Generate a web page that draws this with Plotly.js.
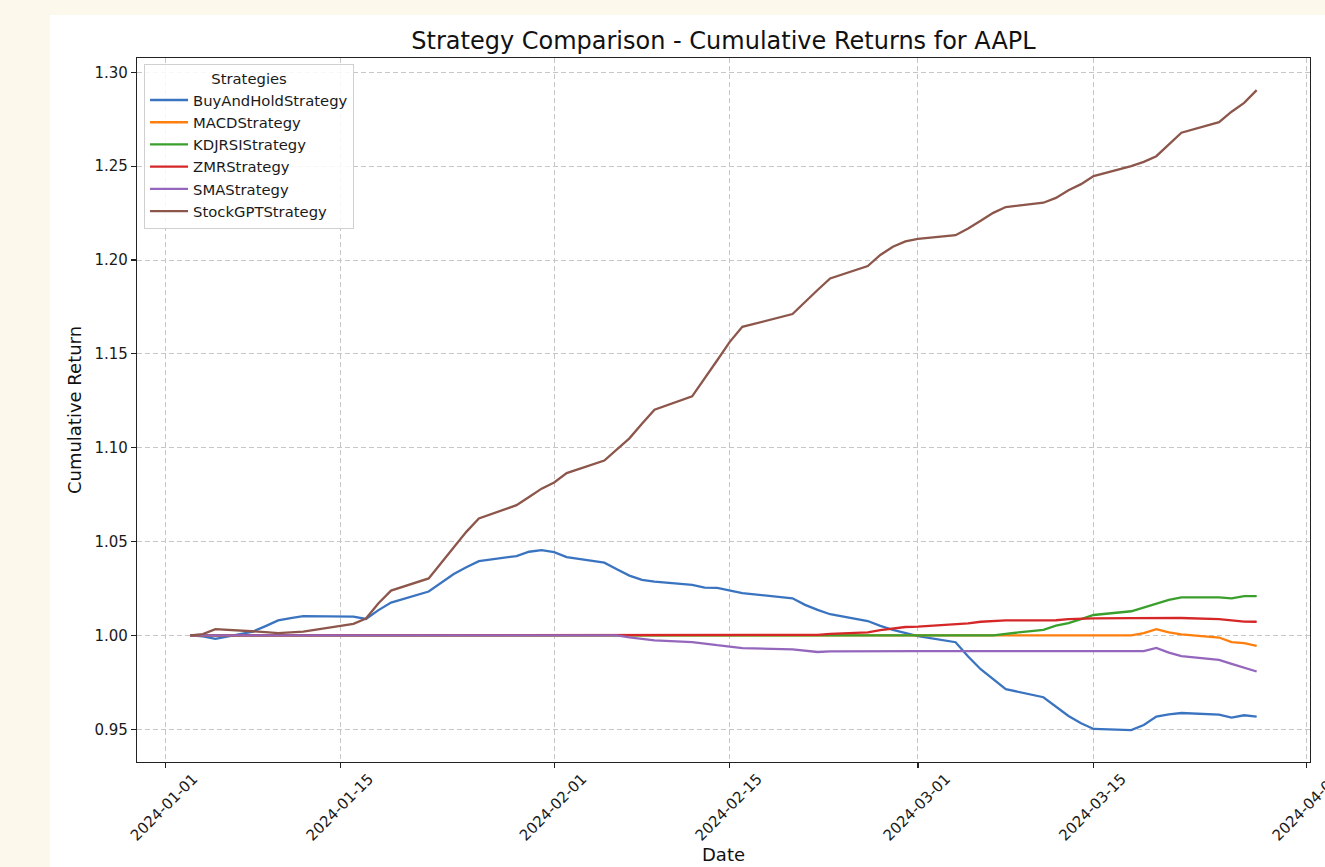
<!DOCTYPE html>
<html>
<head>
<meta charset="utf-8">
<script src="https://cdn.plot.ly/plotly-3.0.1.min.js"></script>
<style>
  html, body { margin: 0; padding: 0; width: 1325px; height: 867px; overflow: hidden; background: #fdf8ec; }
  #chart { position: absolute; left: 50px; top: 15px; width: 1330px; height: 900px; background: #ffffff; }
</style>
</head>
<body>
<div id="chart"></div>
<script>
// ---- Data ----
const dates = [
  "2024-01-03","2024-01-04","2024-01-05","2024-01-08","2024-01-09","2024-01-10","2024-01-11","2024-01-12","2024-01-16","2024-01-17",
  "2024-01-18","2024-01-19","2024-01-22","2024-01-23","2024-01-24","2024-01-25","2024-01-26","2024-01-29","2024-01-30","2024-01-31",
  "2024-02-01","2024-02-02","2024-02-05","2024-02-06","2024-02-07","2024-02-08","2024-02-09","2024-02-12","2024-02-13","2024-02-14",
  "2024-02-15","2024-02-16","2024-02-20","2024-02-21","2024-02-22","2024-02-23","2024-02-26","2024-02-27","2024-02-28","2024-02-29",
  "2024-03-01","2024-03-04","2024-03-05","2024-03-06","2024-03-07","2024-03-08","2024-03-11","2024-03-12","2024-03-13","2024-03-14",
  "2024-03-15","2024-03-18","2024-03-19","2024-03-20","2024-03-21","2024-03-22","2024-03-25","2024-03-26","2024-03-27","2024-03-28"
];

const buyAndHold = [
  1.0000, 0.9995, 0.9982, 1.0021, 1.0050, 1.0080, 1.0093, 1.0103, 1.0100, 1.0088,
  1.0135, 1.0175, 1.0234, 1.0281, 1.0327, 1.0363, 1.0396, 1.0423, 1.0446, 1.0455,
  1.0444, 1.0417, 1.0388, 1.0353, 1.0319, 1.0296, 1.0287, 1.0269, 1.0255, 1.0253,
  1.0239, 1.0225, 1.0198, 1.0163, 1.0136, 1.0113, 1.0077, 1.0051, 1.0030, 1.0012,
  0.9997, 0.9964, 0.9888, 0.9820, 0.9767, 0.9714, 0.9671, 0.9621, 0.9571, 0.9532,
  0.9502, 0.9496, 0.9523, 0.9568, 0.9580, 0.9587, 0.9578, 0.9562, 0.9575, 0.9568
];

const macd = [
  1.0000, 1.0000, 1.0000, 1.0000, 1.0000, 1.0000, 1.0000, 1.0000, 1.0000, 1.0000,
  1.0000, 1.0000, 1.0000, 1.0000, 1.0000, 1.0000, 1.0000, 1.0000, 1.0000, 1.0000,
  1.0000, 1.0000, 1.0000, 1.0000, 1.0000, 1.0000, 1.0000, 1.0000, 1.0000, 1.0000,
  1.0000, 1.0000, 1.0000, 1.0000, 1.0000, 1.0000, 1.0000, 1.0000, 1.0000, 1.0000,
  1.0000, 1.0000, 1.0000, 1.0000, 1.0000, 1.0000, 1.0000, 1.0000, 1.0000, 1.0000,
  1.0000, 1.0000, 1.0012, 1.0034, 1.0016, 1.0006, 0.9989, 0.9965, 0.9959, 0.9944
];

const kdjrsi = [
  1.0000, 1.0000, 1.0000, 1.0000, 1.0000, 1.0000, 1.0000, 1.0000, 1.0000, 1.0000,
  1.0000, 1.0000, 1.0000, 1.0000, 1.0000, 1.0000, 1.0000, 1.0000, 1.0000, 1.0000,
  1.0000, 1.0000, 1.0000, 1.0000, 1.0000, 1.0000, 1.0000, 1.0000, 1.0000, 1.0000,
  1.0000, 1.0000, 1.0000, 1.0000, 1.0000, 1.0000, 1.0000, 1.0000, 1.0000, 1.0000,
  1.0000, 1.0000, 1.0000, 1.0000, 1.0000, 1.0009, 1.0030, 1.0052, 1.0066, 1.0087,
  1.0109, 1.0129, 1.0148, 1.0171, 1.0190, 1.0203, 1.0203, 1.0198, 1.0210, 1.0210
];

const zmr = [
  1.0000, 1.0000, 1.0000, 1.0000, 1.0000, 1.0000, 1.0000, 1.0000, 1.0000, 1.0000,
  1.0000, 1.0000, 1.0000, 1.0000, 1.0000, 1.0000, 1.0000, 1.0000, 1.0000, 1.0000,
  1.0000, 1.0000, 1.0000, 1.0000, 1.0000, 1.0000, 1.0000, 1.0000, 1.0000, 1.0000,
  1.0000, 1.0000, 1.0000, 1.0000, 1.0003, 1.0008, 1.0017, 1.0029, 1.0038, 1.0045,
  1.0047, 1.0057, 1.0064, 1.0073, 1.0078, 1.0080, 1.0080, 1.0081, 1.0087, 1.0089,
  1.0091, 1.0092, 1.0093, 1.0093, 1.0093, 1.0093, 1.0087, 1.0082, 1.0074, 1.0073
];

const sma = [
  1.0000, 1.0000, 1.0000, 1.0000, 1.0000, 1.0000, 1.0000, 1.0000, 1.0000, 1.0000,
  1.0000, 1.0000, 1.0000, 1.0000, 1.0000, 1.0000, 1.0000, 1.0000, 1.0000, 1.0000,
  1.0000, 1.0000, 1.0000, 1.0000, 0.9990, 0.9980, 0.9974, 0.9965, 0.9955, 0.9948,
  0.9941, 0.9933, 0.9926, 0.9917, 0.9912, 0.9915, 0.9917, 0.9917, 0.9917, 0.9917,
  0.9917, 0.9917, 0.9917, 0.9917, 0.9917, 0.9917, 0.9917, 0.9917, 0.9917, 0.9917,
  0.9917, 0.9917, 0.9917, 0.9934, 0.9909, 0.9890, 0.9870, 0.9849, 0.9829, 0.9808
];

const stockGPT = [
  1.0000, 1.0007, 1.0034, 1.0024, 1.0018, 1.0013, 1.0017, 1.0021, 1.0062, 1.0090,
  1.0172, 1.0239, 1.0304, 1.0388, 1.0473, 1.0552, 1.0623, 1.0694, 1.0738, 1.0782,
  1.0815, 1.0865, 1.0932, 1.0993, 1.1050, 1.1128, 1.1203, 1.1274, 1.1368, 1.1466,
  1.1564, 1.1644, 1.1712, 1.1778, 1.1840, 1.1902, 1.1968, 1.2027, 1.2071, 1.2099,
  1.2113, 1.2132, 1.2168, 1.2209, 1.2251, 1.2282, 1.2305, 1.2331, 1.2372, 1.2404,
  1.2447, 1.2500, 1.2523, 1.2553, 1.2617, 1.2678, 1.2734, 1.2790, 1.2837, 1.2905
];

const seriesNames = ["BuyAndHoldStrategy","MACDStrategy","KDJRSIStrategy","ZMRStrategy","SMAStrategy","StockGPTStrategy"];
const seriesColors = ["#3a74c0","#ff7f0e","#3a9f2c","#d62728","#9467bd","#8c564b"];
const seriesValues = [buyAndHold, macd, kdjrsi, zmr, sma, stockGPT];

const xTickVals = ["2024-01-01","2024-01-15","2024-02-01","2024-02-15","2024-03-01","2024-03-15","2024-04-01"];
const xTickText = ["2024-01-01","2024-01-15","2024-02-01","2024-02-15","2024-03-01","2024-03-15","2024-04-01"];
const yTickVals = [0.95, 1.00, 1.05, 1.10, 1.15, 1.20, 1.25, 1.30];
const yTickText = ["0.95","1.00","1.05","1.10","1.15","1.20","1.25","1.30"];

const FONT = "DejaVu Sans, Liberation Sans, sans-serif";

const traces = seriesNames.map((name, i) => ({
  type: "scatter",
  mode: "lines",
  name: name,
  x: dates,
  y: seriesValues[i],
  line: { color: seriesColors[i], width: 2.3 },
  hoverinfo: "skip"
}));

const axisCommon = {
  showline: true, linecolor: "#222", linewidth: 1.2, mirror: true,
  ticks: "outside", ticklen: 5, tickwidth: 1.2, tickcolor: "#222",
  showgrid: true, gridcolor: "#c6c6c6", gridwidth: 1, griddash: "5px,3px",
  zeroline: false,
  tickfont: { family: FONT, size: 15, color: "#1a1a1a" }
};

const layout = {
  width: 1330, height: 900,
  paper_bgcolor: "#ffffff", plot_bgcolor: "#ffffff",
  margin: { l: 87, r: 70, t: 43, b: 153, pad: 0 },
  font: { family: FONT, color: "#1a1a1a" },
  title: {
    text: "Strategy Comparison - Cumulative Returns for AAPL",
    font: { family: FONT, size: 24, color: "#111" },
    x: 0.5, xref: "paper", xanchor: "center",
    y: 1 - 26 / 900, yref: "container", yanchor: "middle"
  },
  xaxis: Object.assign({}, axisCommon, {
    type: "date",
    range: ["2023-12-29 18:00", "2024-04-01 06:00"],
    tickmode: "array", tickvals: xTickVals, ticktext: xTickText,
    tickangle: -45, ticklabelshift: 28, ticklabelstandoff: -4,
    title: { text: "Date", font: { family: FONT, size: 18, color: "#111" }, standoff: 5 }
  }),
  yaxis: Object.assign({}, axisCommon, {
    range: [0.9326, 1.3076],
    tickmode: "array", tickvals: yTickVals, ticktext: yTickText,
    title: { text: "Cumulative Return", font: { family: FONT, size: 18, color: "#111" }, standoff: 8 }
  }),
  legend: {
    x: 0.006, y: 0.992, xanchor: "left", yanchor: "top",
    itemwidth: 38,
    bgcolor: "rgba(255,255,255,0.85)", bordercolor: "#d0d0d0", borderwidth: 1,
    font: { family: FONT, size: 14.8, color: "#1a1a1a" },
    title: { text: "Strategies", side: "top center", font: { family: FONT, size: 14.8, color: "#1a1a1a" } }
  },
  showlegend: true
};

Plotly.newPlot("chart", traces, layout, { staticPlot: true, displayModeBar: false });
</script>
</body>
</html>
